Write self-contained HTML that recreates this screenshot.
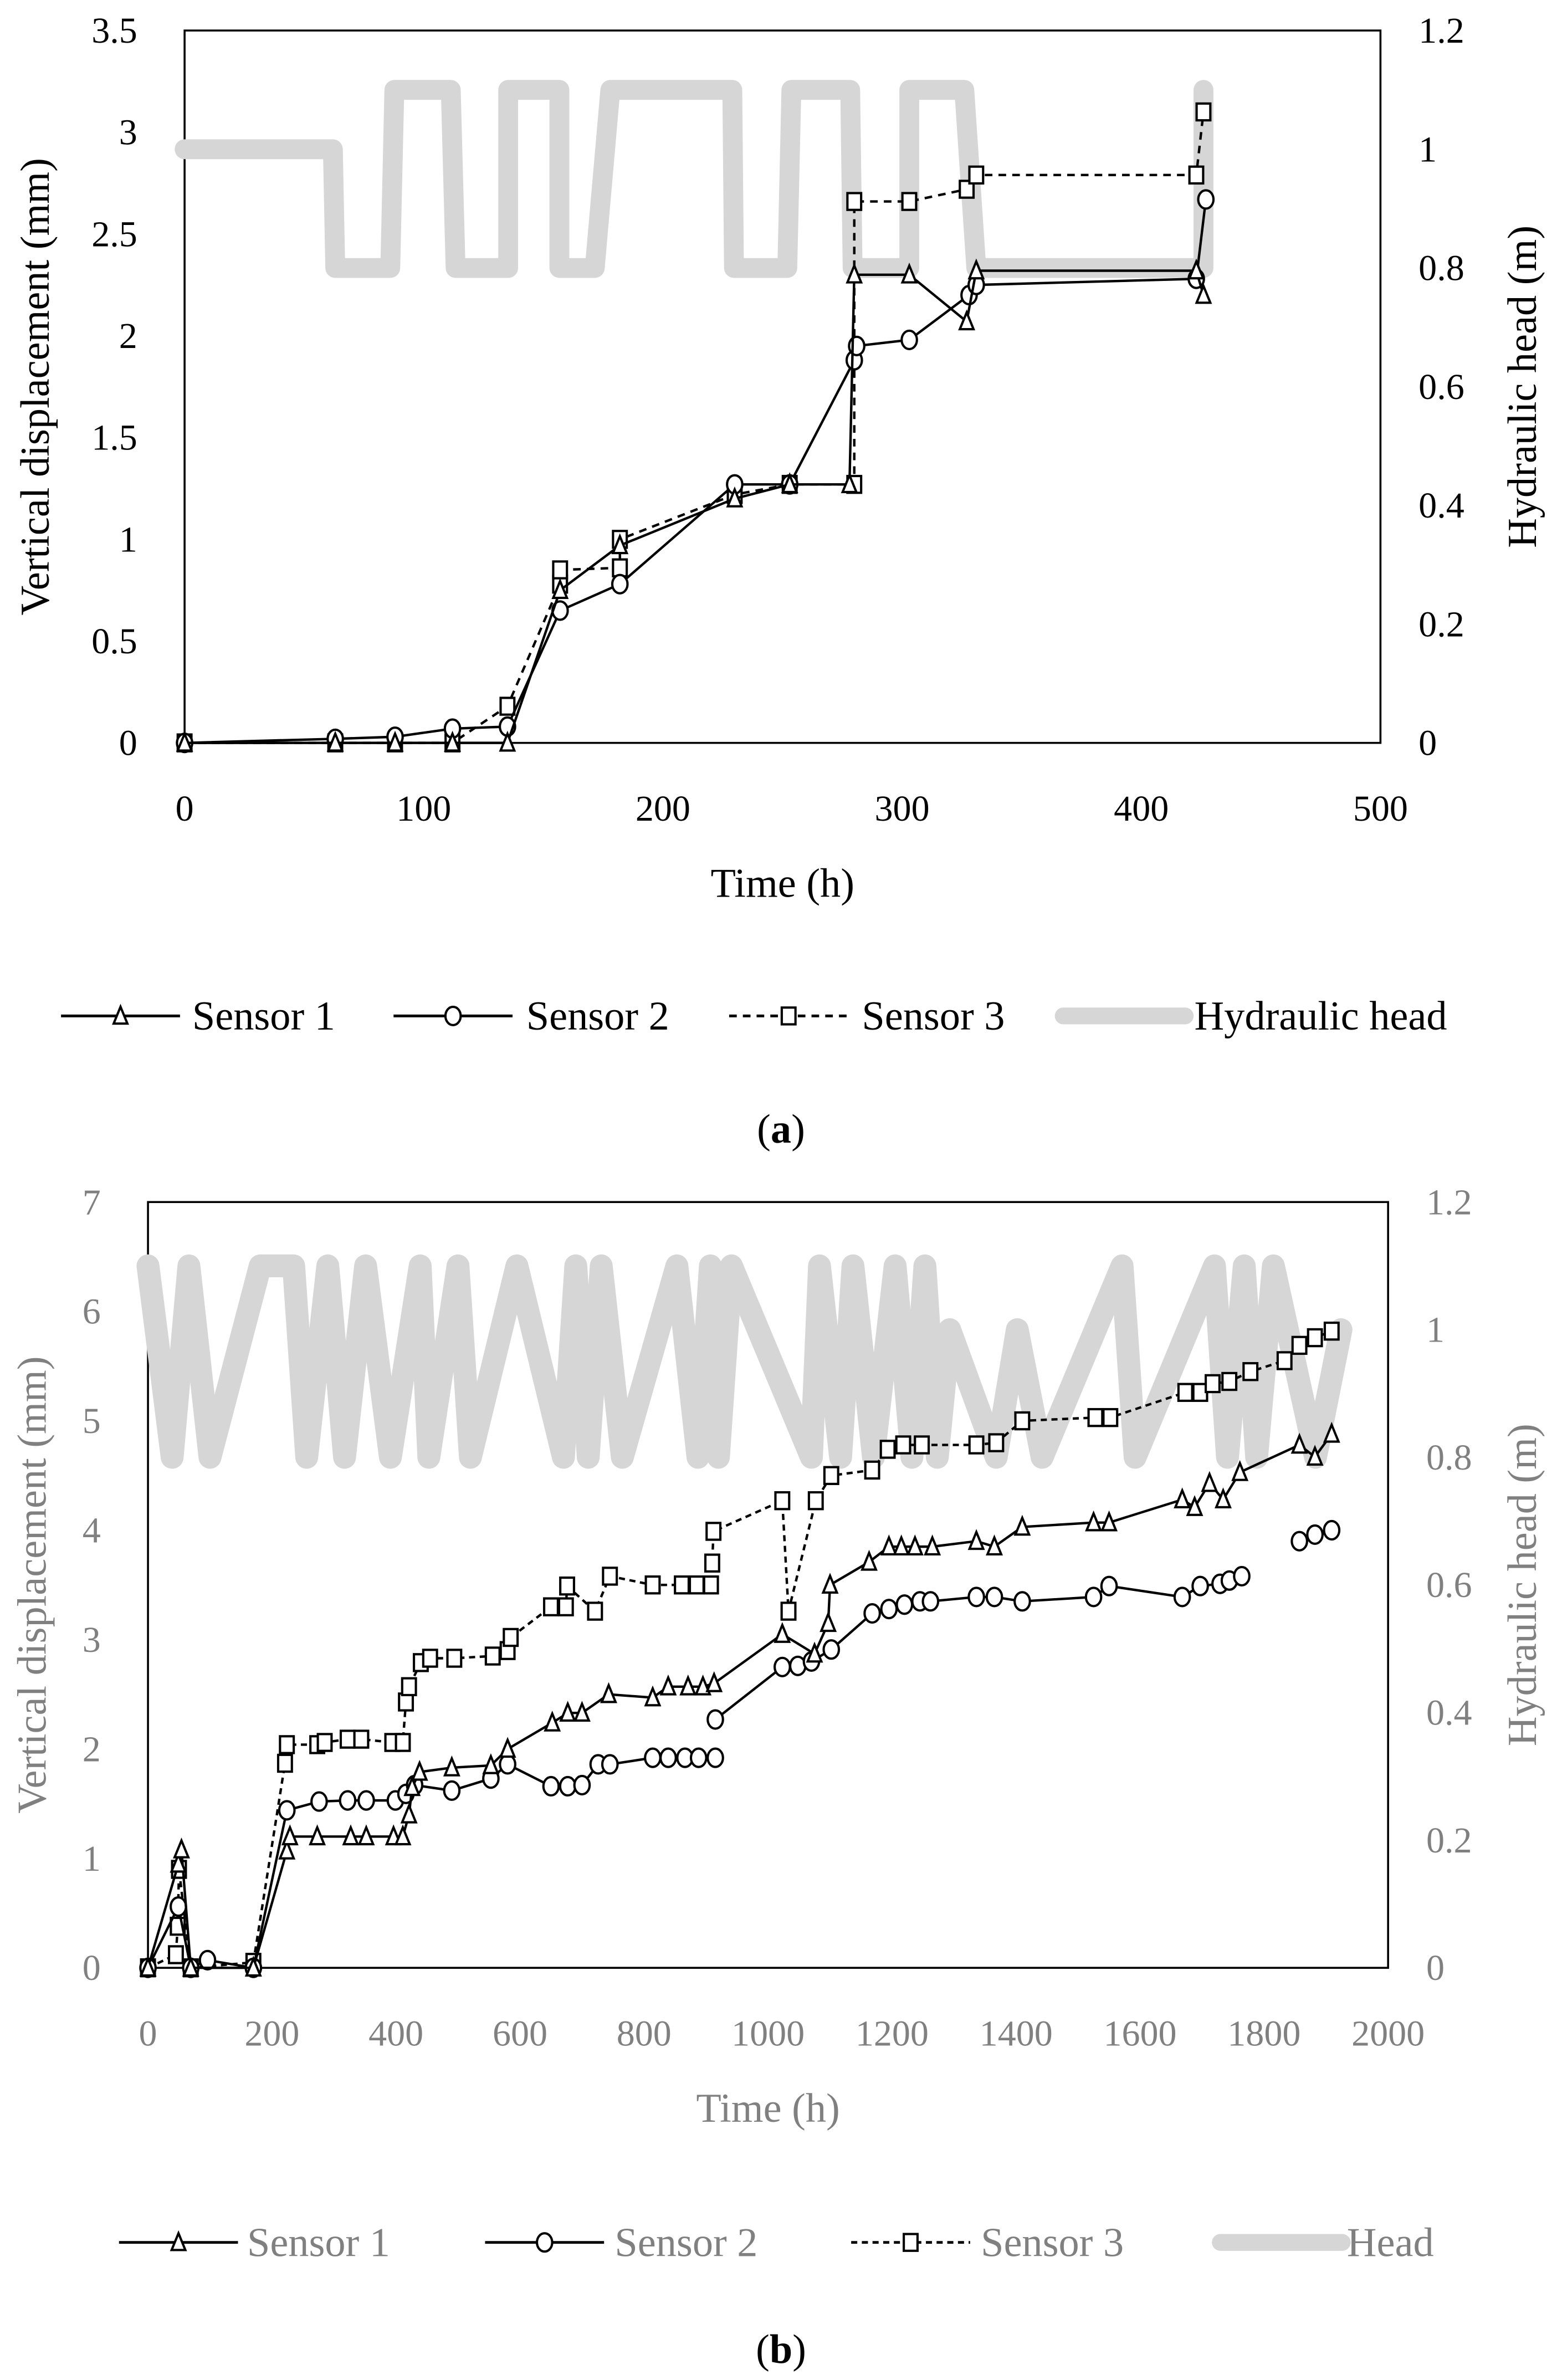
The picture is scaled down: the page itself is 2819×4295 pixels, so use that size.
<!DOCTYPE html>
<html><head><meta charset="utf-8"><title>Displacement charts</title>
<style>html,body{margin:0;padding:0;background:#fff}svg{display:block}</style></head>
<body>
<svg id="fig" xmlns="http://www.w3.org/2000/svg" width="2819" height="4295" viewBox="0 0 1024 1560.2" font-family="'Liberation Serif', serif">
<rect width="1024" height="1560.2" fill="#fff"/>
<g id="chartA"></g>
<g id="chartB"></g>
</svg>
<script>
// ---------- Chart (a) data ----------
const aXTicks = [0,100,200,300,400,500];
const aYTicks = [0,0.5,1,1.5,2,2.5,3,3.5];
const aY2Ticks = [0,0.2,0.4,0.6,0.8,1,1.2];
const aHeadT = [0,62,63,86,87.7,111.3,113.3,135.3,135.3,156.7,156.7,171.5,178,229,229.7,252,253.7,278.3,279.3,303,303,326,331,426,426];
const aHeadV = [1,1,0.8,0.8,1.1,1.1,0.8,0.8,1.1,1.1,0.8,0.8,1.1,1.1,0.8,0.8,1.1,1.1,0.8,0.8,1.1,1.1,0.8,0.8,1.1];
const aS1T = [0,63,88,112,135,157,182,230,253,278,280,303,327,331,423,426];
const aS1V = [0,0,0,0,0,0.75,0.97,1.2,1.27,1.27,2.3,2.3,2.07,2.32,2.32,2.2];
const aS2T = [0,63,88,112,135,157,182,230,253,280,281,303,328,331,423,427];
const aS2V = [0,0.02,0.03,0.07,0.08,0.65,0.78,1.27,1.27,1.88,1.95,1.98,2.2,2.25,2.28,2.67];
const aS3T = [0,63,88,112,135,157,157,182,182,230,253,280,280,303,327,331,423,426];
const aS3V = [0,0,0,0,0.18,0.78,0.85,0.86,1.0,1.22,1.27,1.27,2.66,2.66,2.72,2.79,2.79,3.1];

// ---------- Chart (b) data ----------
const bXTicks = [0,200,400,600,800,1000,1200,1400,1600,1800,2000];
const bYTicks = [0,1,2,3,4,5,6,7];
const bY2Ticks = [0,0.2,0.4,0.6,0.8,1,1.2];
const bHeadT = [0,39,66,100,181,235,256,290,317,351,391,439,453,500,520,595,670,690,710,731,765,853,887,907,920,941,1070,1083,1117,1137,1170,1205,1232,1253,1273,1293,1368,1402,1442,1571,1592,1720,1741,1768,1788,1815,1883,1924];
const bHeadV = [1.1,0.8,1.1,0.8,1.1,1.1,0.8,1.1,0.8,1.1,0.8,1.1,0.8,1.1,0.8,1.1,0.8,1.1,0.8,1.1,0.8,1.1,0.8,1.1,0.8,1.1,0.8,1.1,0.8,1.1,0.8,1.1,0.8,1.1,0.8,1.0,0.8,1.0,0.8,1.1,0.8,1.1,0.8,1.1,0.8,1.1,0.8,1.0];
const bS1T = [0,49,54,69,170,224,229,273,327,352,396,411,421,426,438,490,553,580,652,677,700,743,814,839,871,895,913,1023,1075,1097,1100,1163,1195,1215,1237,1265,1336,1365,1410,1525,1550,1668,1688,1712,1734,1761,1857,1882,1909];
const bS1V = [0,0.95,1.08,0,0,1.07,1.2,1.2,1.2,1.2,1.2,1.2,1.4,1.65,1.79,1.83,1.85,2.0,2.24,2.33,2.33,2.5,2.47,2.57,2.57,2.57,2.6,3.05,2.87,3.15,3.5,3.71,3.85,3.85,3.85,3.85,3.9,3.85,4.03,4.07,4.07,4.28,4.21,4.43,4.28,4.53,4.78,4.67,4.88];
const bS2T = [0,49,69,96,170,224,276,322,352,399,416,430,490,553,580,650,677,700,726,745,814,839,866,888,915,915,915,1023,1048,1070,1102,1168,1195,1220,1245,1262,1336,1365,1410,1525,1550,1668,1697,1729,1744,1764,1764,1857,1882,1909];
const bS2V = [0,0.56,0,0.07,0,1.44,1.52,1.53,1.53,1.53,1.59,1.67,1.62,1.73,1.86,1.66,1.66,1.67,1.86,1.86,1.92,1.92,1.92,1.92,1.92,null,2.27,2.75,2.76,2.8,2.91,3.24,3.28,3.32,3.35,3.35,3.39,3.39,3.35,3.39,3.49,3.39,3.49,3.51,3.54,3.58,null,3.9,3.96,4.0];
const bS3T = [0,45,48,50,69,170,221,224,273,285,322,344,394,411,416,421,440,455,494,556,580,585,650,674,676,721,745,814,861,885,908,910,912,1023,1033,1077,1102,1168,1193,1218,1248,1336,1368,1410,1528,1552,1673,1697,1717,1744,1778,1833,1857,1882,1909];
const bS3V = [0,0.12,0.38,0.9,0,0.05,1.87,2.04,2.04,2.06,2.09,2.09,2.06,2.06,2.43,2.57,2.79,2.83,2.83,2.85,2.9,3.02,3.3,3.3,3.49,3.26,3.58,3.5,3.5,3.5,3.5,3.7,3.99,4.27,3.26,4.27,4.5,4.55,4.74,4.78,4.78,4.78,4.8,5.0,5.03,5.03,5.26,5.26,5.34,5.36,5.45,5.55,5.69,5.76,5.82];

const NS = 'http://www.w3.org/2000/svg';
function mk(parent, tag, attrs){ const e=document.createElementNS(NS,tag); for(const k in attrs) e.setAttribute(k,attrs[k]); parent.appendChild(e); return e; }

function drawChart(g, cfg){
  const X = t => cfg.x0 + (t - cfg.xmin)/(cfg.xmax-cfg.xmin)*(cfg.x1-cfg.x0);
  const Y = v => cfg.yb - v/cfg.ymax*(cfg.yb-cfg.yt);
  const Y2 = v => cfg.yb - v/cfg.y2max*(cfg.yb-cfg.yt);
  const fr = mk(g,'rect',{x:cfg.x0,y:cfg.yt,width:cfg.x1-cfg.x0,height:cfg.yb-cfg.yt,fill:'none',stroke:'#000','stroke-width':1.3});
  
  
  cfg.xt.forEach(t=>{
    const e = mk(g,'text',{x:X(t),y:cfg.yb+51,'text-anchor':'middle','font-size':24,fill:cfg.tc});
    e.textContent = String(t);
    
    
  });
  cfg.yt1.forEach(v=>{
    const e = mk(g,'text',{x:cfg.x0-31,y:Y(v)+8,'text-anchor':'end','font-size':24,fill:cfg.tc});
    e.textContent = String(v);
    
    
  });
  cfg.yt2.forEach(v=>{
    const e = mk(g,'text',{x:cfg.x1+25,y:Y2(v)+8,'text-anchor':'start','font-size':24,fill:cfg.tc});
    e.textContent = String(v);
    
    
  });
  let e = mk(g,'text',{x:(cfg.x0+cfg.x1)/2,y:cfg.yb+101,'text-anchor':'middle','font-size':27,fill:cfg.tc});
  e.textContent='Time (h)';
  
  
  const cy=(cfg.yt+cfg.yb)/2;
  e = mk(g,'text',{x:0,y:0,'text-anchor':'middle','font-size':27,fill:cfg.tc,transform:`translate(${cfg.ylx},${cy}) rotate(-90)`});
  e.textContent='Vertical displacement (mm)';
  
  
  e = mk(g,'text',{x:0,y:0,'text-anchor':'middle','font-size':27,fill:cfg.tc,transform:`translate(${cfg.yrx},${cy}) rotate(-90)`});
  e.textContent='Hydraulic head (m)';
  
  
  let d=''; cfg.headT.forEach((t,i)=>{ d+=(i?'L':'M')+X(t).toFixed(2)+' '+Y2(cfg.headV[i]).toFixed(2); });
  e = mk(g,'path',{d:d,fill:'none',stroke:'#d6d6d6','stroke-width':cfg.hw,'stroke-linejoin':'round','stroke-linecap':'round'});
  
  
  cfg.series.forEach(s=>{
    let d='', pen=false;
    s.t.forEach((t,i)=>{ const v=s.v[i]; if(v===null){pen=false;return;} d+=(pen?'L':'M')+X(t).toFixed(2)+' '+Y(v).toFixed(2); pen=true; });
    const p = mk(g,'path',{d:d,fill:'none',stroke:'#000','stroke-width':1.6,'stroke-dasharray':s.dash||'none'});
    
    
    s.t.forEach((t,i)=>{ const v=s.v[i]; if(v===null) return; const m=marker(g,s.m,X(t),Y(v));   });
  });
}
function marker(g,type,x,y){
  if(type==='tri') return mk(g,'path',{d:`M${x} ${y-6}L${x+4.5} ${y+5}L${x-4.5} ${y+5}Z`,fill:'#fff',stroke:'#000','stroke-width':1.5});
  if(type==='cir') return mk(g,'ellipse',{cx:x,cy:y,rx:5,ry:6,fill:'#fff',stroke:'#000','stroke-width':1.5});
  return mk(g,'rect',{x:x-4.5,y:y-5.5,width:9,height:11,fill:'#fff',stroke:'#000','stroke-width':1.5});
}
function legend(g,y,items,tc){
  items.forEach(it=>{
    const lg = mk(g,'g',{});
    
    
    if(it.m==='head'){
      mk(lg,'line',{x1:it.x,y1:y,x2:it.x+80,y2:y,stroke:'#d6d6d6','stroke-width':11,'stroke-linecap':'round'});
    } else {
      mk(lg,'line',{x1:it.x,y1:y,x2:it.x+78,y2:y,stroke:'#000','stroke-width':1.8,'stroke-dasharray':it.dash||'none'});
      marker(lg,it.m,it.x+39,y);
    }
    const t = mk(lg,'text',{x:it.tx,y:y+9,'font-size':27,fill:tc});
    t.textContent = it.label;
  });
}
const gA=document.getElementById('chartA');
drawChart(gA,{x0:121,x1:905,xmin:0,xmax:500,yt:20,yb:487,ymax:3.5,y2max:1.2,xt:aXTicks,yt1:aYTicks,yt2:aY2Ticks,tc:'#000',ylx:32,yrx:1007,hw:13,
  headT:aHeadT,headV:aHeadV,
  series:[{name:'sensor-3',t:aS3T,v:aS3V,m:'sq',dash:'5 4'},{name:'sensor-2',t:aS2T,v:aS2V,m:'cir'},{name:'sensor-1',t:aS1T,v:aS1V,m:'tri'}]});
legend(gA,666,[{x:40,tx:126,m:'tri',label:'Sensor 1'},{x:258,tx:345,m:'cir',label:'Sensor 2'},{x:478,tx:565,m:'sq',dash:'5 4',label:'Sensor 3'},{x:697,tx:783,m:'head',label:'Hydraulic head'}],'#000');
let cap=mk(gA,'text',{x:512,y:749,'text-anchor':'middle','font-size':27,fill:'#000'});
cap.innerHTML='(<tspan font-weight="bold">a</tspan>)';



const gB=document.getElementById('chartB');
drawChart(gB,{x0:97,x1:910,xmin:0,xmax:2000,yt:788,yb:1290,ymax:7,y2max:1.2,xt:bXTicks,yt1:bYTicks,yt2:bY2Ticks,tc:'#808080',ylx:30,yrx:1007,hw:15,
  headT:bHeadT,headV:bHeadV,
  series:[{name:'sensor-3',t:bS3T,v:bS3V,m:'sq',dash:'4 3'},{name:'sensor-2',t:bS2T,v:bS2V,m:'cir'},{name:'sensor-1',t:bS1T,v:bS1V,m:'tri'}]});
legend(gB,1470,[{x:78,tx:162,m:'tri',label:'Sensor 1'},{x:318,tx:403,m:'cir',label:'Sensor 2'},{x:558,tx:643,m:'sq',dash:'4 3',label:'Sensor 3'},{x:800,tx:883,m:'head',label:'Head'}],'#808080');
cap=mk(gB,'text',{x:512,y:1549,'text-anchor':'middle','font-size':27,fill:'#000'});
cap.innerHTML='(<tspan font-weight="bold">b</tspan>)';


</script>
</body></html>
